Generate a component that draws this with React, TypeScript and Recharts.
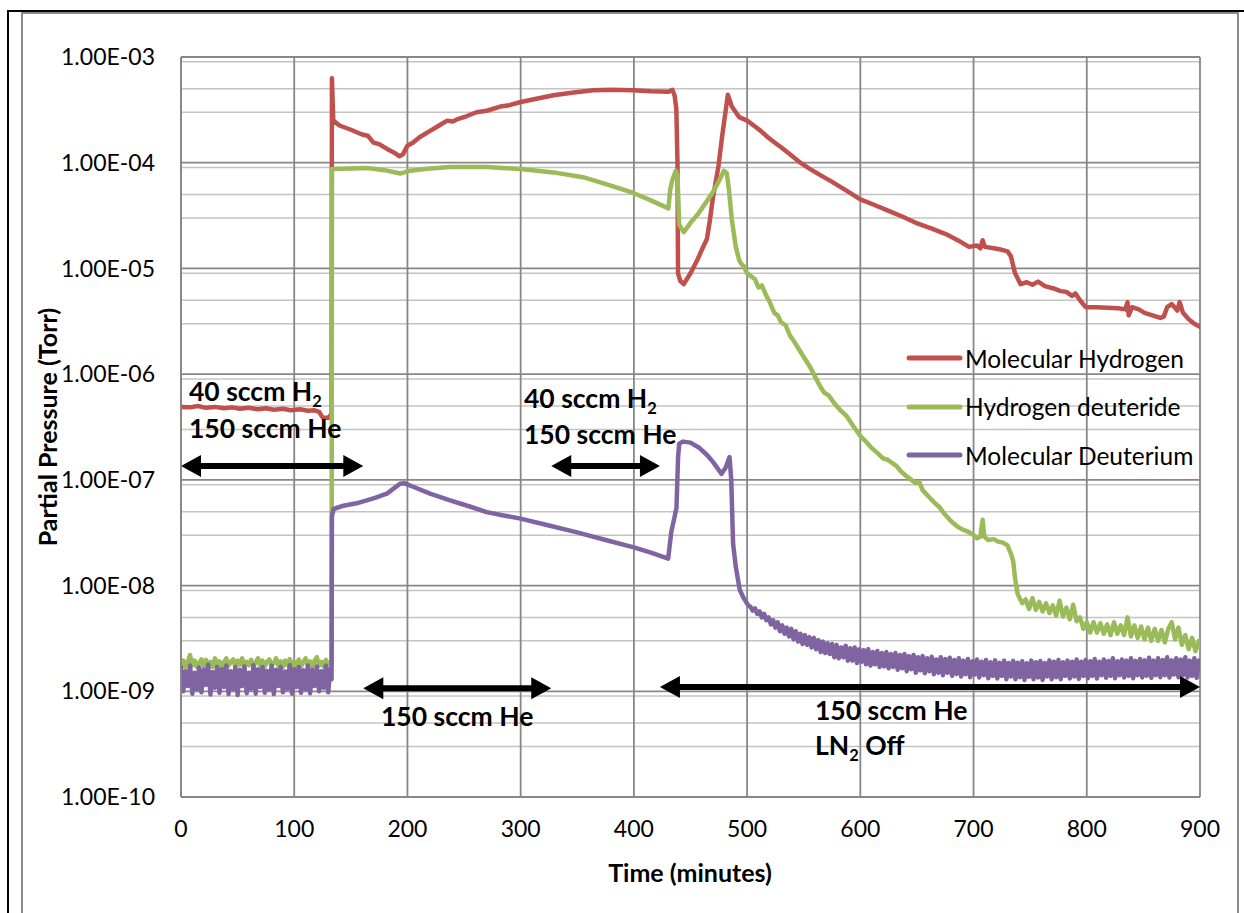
import React from "react";
import {
  LineChart,
  Line,
  XAxis,
  YAxis,
  CartesianGrid,
  ReferenceLine,
  Legend
} from "recharts";

// time (minutes), partial pressure (Torr)
const hydrogenData: [number, number][] = [
  [0, 4.9e-7], [8, 4.85e-7], [15, 5.0e-7], [22, 4.8e-7], [30, 4.9e-7], [38, 4.75e-7], [45, 4.85e-7],
  [52, 4.7e-7], [60, 4.8e-7], [68, 4.65e-7], [75, 4.75e-7], [82, 4.6e-7], [90, 4.7e-7], [97, 4.55e-7],
  [105, 4.65e-7], [112, 4.5e-7], [118, 4.55e-7], [122, 4.4e-7], [125, 3.9e-7], [130, 3.85e-7], [133, 4.2e-7],
  [133.3, 6.3e-4], [134.5, 2.5e-4], [140, 2.25e-4], [150, 2.05e-4], [160, 1.85e-4], [165, 1.8e-4], [170, 1.55e-4],
  [175, 1.5e-4], [182, 1.35e-4], [188, 1.25e-4], [193, 1.15e-4], [196, 1.2e-4], [200, 1.45e-4], [205, 1.55e-4],
  [211, 1.75e-4], [220, 2.0e-4], [228, 2.25e-4], [235, 2.5e-4], [240, 2.45e-4], [245, 2.6e-4], [252, 2.75e-4],
  [261, 3.0e-4], [270, 3.1e-4], [282, 3.4e-4], [290, 3.5e-4], [300, 3.75e-4], [315, 4.05e-4], [329, 4.35e-4],
  [345, 4.6e-4], [364, 4.85e-4], [380, 4.9e-4], [399, 4.85e-4], [415, 4.75e-4], [431, 4.7e-4], [434, 4.9e-4],
  [436, 4.3e-4], [437.5, 3.2e-4], [438.5, 1.0e-4], [439, 9.0e-6], [441, 7.6e-6], [444, 7.1e-6], [450, 9.0e-6],
  [456, 1.2e-5], [460, 1.5e-5], [464.5, 1.9e-5], [467, 2.8e-5], [469.6, 4.5e-5], [474.7, 9.3e-5], [478, 1.8e-4],
  [483, 4.4e-4], [486.5, 3.4e-4], [490, 3.0e-4], [493, 2.7e-4], [500, 2.5e-4], [507, 2.2e-4], [512, 2.0e-4],
  [518, 1.75e-4], [524, 1.56e-4], [530, 1.4e-4], [537, 1.22e-4], [547, 1.0e-4], [555, 8.8e-5], [565, 7.6e-5],
  [574, 6.7e-5], [587, 5.5e-5], [600, 4.5e-5], [612, 4.0e-5], [625, 3.5e-5], [637, 3.1e-5], [649, 2.7e-5],
  [662, 2.4e-5], [676, 2.1e-5], [686, 1.85e-5], [696, 1.6e-5], [703, 1.65e-5], [706, 1.55e-5], [708, 1.85e-5],
  [710, 1.6e-5], [718, 1.55e-5], [725, 1.5e-5], [730, 1.45e-5], [733, 1.3e-5], [736.5, 9.1e-6], [741.5, 7.1e-6],
  [747, 7.4e-6], [752, 7.0e-6], [757, 7.5e-6], [763, 6.8e-6], [770, 6.5e-6], [777, 6.1e-6], [782, 6.0e-6],
  [787, 5.5e-6], [790, 5.8e-6], [794, 5.0e-6], [799, 4.3e-6], [808, 4.3e-6], [818, 4.25e-6], [828, 4.2e-6],
  [834, 4.1e-6], [836, 4.8e-6], [837, 3.6e-6], [840, 4.3e-6], [846, 4.1e-6], [851, 3.8e-6], [858, 3.6e-6],
  [865, 3.4e-6], [868, 3.5e-6], [871, 4.3e-6], [875, 4.6e-6], [880, 4.0e-6], [882, 4.8e-6], [885, 3.8e-6],
  [890, 3.3e-6], [895, 3.0e-6], [900, 2.8e-6]
];

const hdBaseline: [number, number][] = [
  [0, 1.75e-9], [2, 1.95e-9], [4, 1.7e-9], [6, 1.9e-9], [8, 2.2e-9], [10, 1.75e-9], [12, 1.95e-9], [14, 1.7e-9],
  [16, 1.85e-9], [18, 2.0e-9], [20, 1.72e-9], [22, 1.98e-9], [24, 1.75e-9], [26, 1.9e-9], [28, 1.7e-9], [30, 2.05e-9],
  [32, 1.78e-9], [34, 1.92e-9], [36, 1.7e-9], [38, 1.88e-9], [40, 2.05e-9], [42, 1.75e-9], [44, 1.9e-9], [46, 2.0e-9],
  [48, 1.72e-9], [50, 1.95e-9], [52, 1.78e-9], [54, 2.05e-9], [56, 1.72e-9], [58, 1.9e-9], [60, 1.76e-9], [62, 1.98e-9],
  [64, 1.7e-9], [66, 1.88e-9], [68, 2.05e-9], [70, 1.75e-9], [72, 1.95e-9], [74, 1.72e-9], [76, 1.9e-9], [78, 2.0e-9],
  [80, 1.74e-9], [82, 1.85e-9], [84, 2.05e-9], [86, 1.75e-9], [88, 1.92e-9], [90, 1.7e-9], [92, 1.95e-9], [94, 1.78e-9],
  [96, 2.02e-9], [98, 1.72e-9], [100, 1.9e-9], [102, 1.75e-9], [104, 2.0e-9], [106, 1.72e-9], [108, 1.88e-9],
  [110, 2.05e-9], [112, 1.76e-9], [114, 1.92e-9], [116, 1.7e-9], [118, 1.95e-9], [120, 2.1e-9], [122, 1.75e-9],
  [124, 1.9e-9], [126, 1.72e-9], [128, 1.98e-9], [130, 1.8e-9], [132, 1.9e-9], [133, 1.8e-9]
];

const hdRun: [number, number][] = [
  [133.3, 8.7e-5], [150, 8.8e-5], [164, 8.9e-5], [180, 8.5e-5], [193.5, 7.9e-5], [202, 8.4e-5], [220, 8.8e-5],
  [238, 9.1e-5], [270, 9.1e-5], [300, 8.7e-5], [329, 8.1e-5], [355, 7.3e-5], [379, 6.1e-5], [399, 5.2e-5],
  [415, 4.4e-5], [430.5, 3.7e-5], [432, 5.5e-5], [434, 6.9e-5], [437, 8.4e-5], [438.5, 7.5e-5], [440, 2.6e-5],
  [444, 2.2e-5], [450, 2.7e-5], [456, 3.2e-5], [463, 4.1e-5], [470, 5.3e-5], [476, 7.0e-5], [479.5, 8.4e-5],
  [482, 8.0e-5], [484, 5.5e-5], [486.5, 2.9e-5], [490, 1.6e-5], [493, 1.2e-5], [495, 1.1e-5], [497, 1.05e-5],
  [500, 9.0e-6], [503, 8.5e-6], [507, 7.9e-6], [510, 6.6e-6], [513, 6.9e-6], [517, 5.5e-6], [520, 4.8e-6],
  [524, 3.8e-6], [527, 3.6e-6], [530, 3.1e-6], [534, 2.9e-6], [538, 2.3e-6], [542, 2.0e-6], [546, 1.7e-6],
  [551, 1.4e-6], [556, 1.15e-6], [561, 9.0e-7], [565, 7.5e-7], [568, 6.7e-7], [572, 6.3e-7], [577, 5.3e-7],
  [582, 4.6e-7], [588, 4.0e-7], [594, 3.2e-7], [600, 2.6e-7], [605, 2.3e-7], [610, 2.0e-7], [615, 1.8e-7],
  [620, 1.6e-7], [624, 1.55e-7], [628, 1.45e-7], [632, 1.35e-7], [636, 1.2e-7], [640, 1.1e-7], [645, 1.0e-7],
  [649, 9.3e-8], [652, 9.5e-8], [655, 8.0e-8], [660, 7.0e-8], [666, 6.0e-8], [670, 5.5e-8], [674, 4.8e-8],
  [678, 4.3e-8], [682, 3.9e-8], [686, 3.6e-8], [690, 3.4e-8], [696, 3.2e-8], [700, 3.0e-8], [703, 2.8e-8],
  [706, 2.9e-8], [708, 4.2e-8], [709.5, 2.9e-8], [713, 2.7e-8], [718, 2.75e-8], [722, 2.6e-8], [726, 2.55e-8],
  [730, 2.4e-8], [733, 2.0e-8], [735, 1.7e-8], [737, 1.1e-8], [739, 8.3e-9], [743, 6.8e-9]
];

const hdTail: [number, number][] = [
  [746, 7.4e-9], [749, 6.0e-9], [752, 7.6e-9], [755, 5.9e-9], [758, 7.0e-9], [761, 5.7e-9], [764, 6.8e-9],
  [767, 5.5e-9], [770, 6.5e-9], [773, 5.2e-9], [776, 7.2e-9], [779, 5.1e-9], [782, 6.2e-9], [785, 4.8e-9],
  [788, 6.6e-9], [791, 4.6e-9], [794, 5.0e-9], [797, 3.9e-9], [800, 4.5e-9], [803, 3.6e-9], [806, 4.5e-9],
  [809, 3.6e-9], [812, 4.4e-9], [815, 3.5e-9], [818, 4.3e-9], [821, 3.4e-9], [824, 4.5e-9], [827, 3.5e-9],
  [830, 4.2e-9], [833, 3.4e-9], [836, 5.0e-9], [839, 3.3e-9], [842, 4.2e-9], [845, 3.2e-9], [848, 4.1e-9],
  [851, 3.1e-9], [854, 4.0e-9], [857, 3.0e-9], [860, 3.9e-9], [863, 3.0e-9], [866, 3.8e-9], [869, 2.9e-9],
  [872, 3.9e-9], [875, 4.5e-9], [878, 3.1e-9], [881, 4.0e-9], [884, 2.75e-9], [887, 3.4e-9], [890, 2.5e-9],
  [893, 3.2e-9], [896, 2.4e-9], [899, 3.0e-9], [900, 2.6e-9]
];

const d2Baseline: [number, number][] = [
  [0, 1.7e-9], [2, 1.0e-9], [4, 1.55e-9], [6, 1.12e-9], [8, 1.75e-9], [10, 0.95e-9], [12, 1.5e-9], [14, 1.05e-9],
  [16, 1.68e-9], [18, 0.98e-9], [20, 1.6e-9], [22, 1.15e-9], [24, 1.78e-9], [26, 0.93e-9], [28, 1.52e-9],
  [30, 1.08e-9], [32, 1.7e-9], [34, 0.97e-9], [36, 1.62e-9], [38, 1.1e-9], [40, 1.75e-9], [42, 0.94e-9],
  [44, 1.55e-9], [46, 1.05e-9], [48, 1.7e-9], [50, 0.92e-9], [52, 1.6e-9], [54, 1.12e-9], [56, 1.72e-9],
  [58, 0.96e-9], [60, 1.5e-9], [62, 1.06e-9], [64, 1.76e-9], [66, 0.95e-9], [68, 1.62e-9], [70, 1.1e-9],
  [72, 1.7e-9], [74, 0.97e-9], [76, 1.56e-9], [78, 1.04e-9], [80, 1.74e-9], [82, 0.94e-9], [84, 1.6e-9],
  [86, 1.12e-9], [88, 1.7e-9], [90, 0.98e-9], [92, 1.54e-9], [94, 1.06e-9], [96, 1.76e-9], [98, 0.95e-9],
  [100, 1.62e-9], [102, 1.1e-9], [104, 1.7e-9], [106, 0.97e-9], [108, 1.58e-9], [110, 1.05e-9], [112, 1.75e-9],
  [114, 0.96e-9], [116, 1.6e-9], [118, 1.12e-9], [120, 1.72e-9], [122, 1.0e-9], [124, 1.55e-9], [126, 1.08e-9],
  [128, 1.74e-9], [130, 0.98e-9], [132, 1.65e-9], [133, 1.3e-9]
];

const d2Run: [number, number][] = [
  [133.3, 4.5e-8], [134.7, 5.3e-8], [143.5, 5.7e-8], [155, 6.0e-8], [164, 6.4e-8], [172, 6.8e-8], [181.8, 7.4e-8],
  [188, 8.3e-8], [193.5, 9.2e-8], [197, 9.3e-8], [205, 8.6e-8], [220, 7.4e-8], [237.6, 6.4e-8], [255, 5.6e-8],
  [270, 4.95e-8], [285, 4.6e-8], [300, 4.3e-8], [325, 3.7e-8], [349, 3.2e-8], [375, 2.7e-8], [400, 2.3e-8],
  [415, 2.05e-8], [430.3, 1.8e-8], [433, 3.2e-8], [437.6, 5.4e-8], [439, 1.6e-7], [440, 2.2e-7], [443.5, 2.3e-7],
  [450, 2.25e-7], [458, 2.0e-7], [465, 1.7e-7], [470, 1.47e-7], [477.4, 1.14e-7], [481, 1.3e-7], [484.5, 1.64e-7],
  [486, 1.0e-7], [487.6, 2.5e-8], [490, 1.5e-8], [493.5, 9.1e-9], [497, 7.6e-9], [501, 6.5e-9]
];

const d2Tail: [number, number][] = [
  [503, 6.3e-9], [505, 5.8e-9], [507, 6.1e-9], [509, 5.4e-9], [511, 5.7e-9], [513, 5.0e-9], [515, 5.4e-9],
  [517, 4.7e-9], [519, 5.0e-9], [521, 4.3e-9], [523, 4.7e-9], [525, 4.0e-9], [527, 4.5e-9], [529, 3.7e-9],
  [531, 4.2e-9], [533, 3.5e-9], [535, 4.0e-9], [537, 3.3e-9], [539, 3.9e-9], [541, 3.1e-9], [543, 3.7e-9],
  [545, 2.95e-9], [547, 3.5e-9], [549, 2.8e-9], [551, 3.4e-9], [553, 2.75e-9], [555, 3.25e-9], [557, 2.6e-9],
  [559, 3.2e-9], [561, 2.5e-9], [563, 3.05e-9], [565, 2.35e-9], [567, 2.95e-9], [569, 2.3e-9], [571, 2.85e-9],
  [573, 2.25e-9], [575, 2.8e-9], [577, 2.1e-9], [579, 2.75e-9], [581, 2.05e-9], [583, 2.6e-9], [585, 2.1e-9],
  [587, 2.7e-9], [589, 1.95e-9], [591, 2.55e-9], [593, 1.95e-9], [595, 2.6e-9], [597, 1.85e-9], [599, 2.5e-9],
  [601, 1.9e-9], [603, 2.45e-9], [605, 1.8e-9], [607, 2.5e-9], [609, 1.75e-9], [611, 2.35e-9], [613, 1.8e-9],
  [615, 2.4e-9], [617, 1.7e-9], [619, 2.3e-9], [621, 1.72e-9], [623, 2.35e-9], [625, 1.65e-9], [627, 2.25e-9],
  [629, 1.7e-9], [631, 2.3e-9], [633, 1.6e-9], [635, 2.2e-9], [637, 1.65e-9], [639, 2.25e-9], [641, 1.55e-9],
  [643, 2.15e-9], [645, 1.62e-9], [647, 2.2e-9], [649, 1.5e-9], [651, 2.1e-9], [653, 1.58e-9], [655, 2.15e-9],
  [657, 1.48e-9], [659, 2.05e-9], [661, 1.55e-9], [663, 2.12e-9], [665, 1.45e-9], [667, 2.0e-9], [669, 1.5e-9],
  [671, 2.1e-9], [673, 1.42e-9], [675, 2.02e-9], [677, 1.5e-9], [679, 2.08e-9], [681, 1.4e-9], [683, 1.98e-9],
  [685, 1.46e-9], [687, 2.05e-9], [689, 1.38e-9], [691, 1.95e-9], [693, 1.45e-9], [695, 2.02e-9], [697, 1.36e-9],
  [699, 1.92e-9], [701, 1.44e-9], [703, 2.0e-9], [705, 1.35e-9], [707, 1.9e-9], [709, 1.42e-9], [711, 1.98e-9],
  [713, 1.33e-9], [715, 1.88e-9], [717, 1.4e-9], [719, 1.96e-9], [721, 1.32e-9], [723, 1.86e-9], [725, 1.4e-9],
  [727, 1.95e-9], [729, 1.3e-9], [731, 1.85e-9], [733, 1.38e-9], [735, 1.94e-9], [737, 1.3e-9], [739, 1.86e-9],
  [741, 1.36e-9], [743, 1.92e-9], [745, 1.28e-9], [747, 1.84e-9], [749, 1.37e-9], [751, 1.95e-9], [753, 1.3e-9],
  [755, 1.88e-9], [757, 1.35e-9], [759, 1.93e-9], [761, 1.28e-9], [763, 1.85e-9], [765, 1.38e-9], [767, 1.96e-9],
  [769, 1.3e-9], [771, 1.9e-9], [773, 1.36e-9], [775, 1.98e-9], [777, 1.3e-9], [779, 1.88e-9], [781, 1.4e-9],
  [783, 1.95e-9], [785, 1.32e-9], [787, 1.9e-9], [789, 1.38e-9], [791, 2.0e-9], [793, 1.31e-9], [795, 1.9e-9],
  [797, 1.4e-9], [799, 1.98e-9], [801, 1.33e-9], [803, 1.92e-9], [805, 1.4e-9], [807, 2.02e-9], [809, 1.32e-9],
  [811, 1.9e-9], [813, 1.42e-9], [815, 2.0e-9], [817, 1.34e-9], [819, 1.93e-9], [821, 1.4e-9], [823, 2.05e-9],
  [825, 1.33e-9], [827, 1.92e-9], [829, 1.42e-9], [831, 2.0e-9], [833, 1.35e-9], [835, 1.95e-9], [837, 1.4e-9],
  [839, 2.05e-9], [841, 1.33e-9], [843, 1.94e-9], [845, 1.42e-9], [847, 2.02e-9], [849, 1.35e-9], [851, 1.96e-9],
  [853, 1.4e-9], [855, 2.08e-9], [857, 1.34e-9], [859, 1.95e-9], [861, 1.42e-9], [863, 2.05e-9], [865, 1.36e-9],
  [867, 1.98e-9], [869, 1.42e-9], [871, 2.1e-9], [873, 1.35e-9], [875, 1.96e-9], [877, 1.44e-9], [879, 2.05e-9],
  [881, 1.36e-9], [883, 2.0e-9], [885, 1.42e-9], [887, 2.1e-9], [889, 1.35e-9], [891, 1.95e-9], [893, 1.4e-9],
  [895, 2.05e-9], [897, 1.34e-9], [899, 1.95e-9], [900, 1.6e-9]
];

const timeTicks = [0, 100, 200, 300, 400, 500, 600, 700, 800, 900];
const pressureTicks = [1e-10, 1e-9, 1e-8, 1e-7, 1e-6, 1e-5, 1e-4, 1e-3];
const seriesOrder = ["Molecular Hydrogen", "Hydrogen deuteride", "Molecular Deuterium"];

// arrows: [start min, end min, pressure]
const arrows: [number, number, number][] = [
  [0, 161, 1.35e-7],
  [327, 423, 1.35e-7],
  [161, 327, 1.07e-9],
  [423, 900, 1.1e-9]
];

const RED = "#C0504D";
const GREEN = "#9BBB59";
const PURPLE = "#8064A2";
const FONT = "Lato, 'Open Sans', sans-serif";

const toRows = (pts: [number, number][]) => pts.map(([t, p]) => ({ t, p }));

const minorValues: number[] = [];
pressureTicks.slice(0, -1).forEach(base => {
  for (let k = 2; k <= 9; k++) minorValues.push(base * k);
});

function fmtExp(v: number) {
  const e = Math.round(Math.log10(v));
  const s = e < 0 ? "-" : "+";
  return `1.00E${s}${String(Math.abs(e)).padStart(2, "0")}`;
}

function ArrowShape(props: any) {
  const { x1, y1, x2, y2 } = props;
  if (x1 == null) return null;
  const hl = 20;
  const hh = 11;
  const left = Math.min(x1, x2);
  const right = Math.max(x1, x2);
  const y = y1;
  return (
    <g>
      <line x1={left + hl - 2} y1={y} x2={right - hl + 2} y2={y2} stroke="#000" strokeWidth={6} />
      <polygon points={`${left},${y} ${left + hl},${y - hh} ${left + hl},${y + hh}`} fill="#000" />
      <polygon points={`${right},${y} ${right - hl},${y - hh} ${right - hl},${y + hh}`} fill="#000" />
    </g>
  );
}

function LegendBox(props: any) {
  const items = (props.payload || [])
    .filter((p: any) => p.value)
    .sort((a: any, b: any) => seriesOrder.indexOf(a.value) - seriesOrder.indexOf(b.value));
  return (
    <div style={{ fontFamily: FONT, fontSize: 24.5, color: "#000" }}>
      {items.map((it: any) => (
        <div key={it.value} style={{ display: "flex", alignItems: "center", height: 48.5 }}>
          <svg width={60} height={10}>
            <line x1={6} y1={5} x2={57} y2={5} stroke={it.color} strokeWidth={5} strokeLinecap="round" />
          </svg>
          <span style={{ marginLeft: 2, whiteSpace: "nowrap" }}>{it.value}</span>
        </div>
      ))}
    </div>
  );
}

function Note({ x, y, children }: { x: number; y: number; children: React.ReactNode }) {
  return (
    <div
      style={{
        position: "absolute",
        left: x,
        top: y,
        fontFamily: FONT,
        fontWeight: 700,
        fontSize: 26.5,
        lineHeight: "32px",
        whiteSpace: "nowrap",
        color: "#000"
      }}
    >
      {children}
    </div>
  );
}

const Sub = ({ children }: { children: React.ReactNode }) => (
  <span style={{ fontSize: "0.62em", position: "relative", top: "0.35em" }}>{children}</span>
);

export default function App() {
  return (
    <div
      style={{
        position: "absolute",
        left: 0,
        top: 0,
        width: 1244,
        height: 913,
        background: "#fff",
        overflow: "hidden",
        fontFamily: FONT
      }}
    >
      <div style={{ position: "absolute", left: 21, top: 12, width: 1214, height: 920, border: "2px solid #8a8a8a" }} />
      <div style={{ position: "absolute", left: 7, top: 10, width: 2, height: 903, background: "#000" }} />
      <div style={{ position: "absolute", left: 7, top: 10, width: 1237, height: 2, background: "#000" }} />

      <div style={{ position: "absolute", left: 0, top: 0 }}>
        <LineChart width={1244} height={913} margin={{ top: 57, right: 44, bottom: 86, left: 0 }}>
          <CartesianGrid
            horizontalValues={minorValues}
            vertical={false}
            stroke="#c4c4c4"
            strokeWidth={1.5}
          />
          <CartesianGrid
            horizontalValues={pressureTicks}
            verticalValues={timeTicks}
            stroke="#878787"
            strokeWidth={1.8}
          />
          <XAxis
            type="number"
            dataKey="t"
            domain={[0, 900]}
            ticks={timeTicks}
            allowDataOverflow
            height={30}
            tickLine={false}
            tickSize={0}
            tickMargin={24}
            axisLine={{ stroke: "#878787", strokeWidth: 1.8 }}
            tick={{ fontSize: 23, fill: "#000", fontFamily: FONT }}
          />
          <YAxis
            type="number"
            dataKey="p"
            scale="log"
            domain={[1e-10, 1e-3]}
            ticks={pressureTicks}
            allowDataOverflow
            width={181}
            tickLine={false}
            tickSize={0}
            tickMargin={26}
            tickFormatter={fmtExp}
            axisLine={{ stroke: "#878787", strokeWidth: 1.8 }}
            tick={{ fontSize: 23, fill: "#000", fontFamily: FONT }}
          />
          <Line
            data={toRows(hydrogenData)}
            dataKey="p"
            name="Molecular Hydrogen"
            stroke={RED}
            strokeWidth={4.5}
            dot={false}
            type="linear"
            strokeLinejoin="round"
            strokeLinecap="round"
            isAnimationActive={false}
          />
          <Line
            data={toRows([...hdBaseline, ...hdRun, ...hdTail])}
            dataKey="p"
            name="Hydrogen deuteride"
            stroke={GREEN}
            strokeWidth={4.5}
            dot={false}
            type="linear"
            strokeLinejoin="round"
            strokeLinecap="round"
            isAnimationActive={false}
          />
          <Line
            data={toRows([...d2Baseline, ...d2Run, ...d2Tail])}
            dataKey="p"
            name="Molecular Deuterium"
            stroke={PURPLE}
            strokeWidth={4.5}
            dot={false}
            type="linear"
            strokeLinejoin="round"
            strokeLinecap="round"
            isAnimationActive={false}
          />
          {arrows.map(([a, b, p], i) => (
            <ReferenceLine
              key={i}
              segment={[{ x: a, y: p }, { x: b, y: p }]}
              shape={ArrowShape}
              ifOverflow="visible"
            />
          ))}
          <Legend
            layout="vertical"
            align="center"
            verticalAlign="middle"
            content={LegendBox}
            wrapperStyle={{ left: 903, top: 334, width: 330 }}
          />
        </LineChart>
      </div>

      <Note x={189} y={375}>40 sccm H<Sub>2</Sub></Note>
      <Note x={189} y={412}>150 sccm He</Note>
      <Note x={524} y={382}>40 sccm H<Sub>2</Sub></Note>
      <Note x={524} y={418}>150 sccm He</Note>
      <Note x={381} y={700}>150 sccm He</Note>
      <Note x={815} y={694}>150 sccm He</Note>
      <Note x={815} y={729}>LN<Sub>2</Sub> Off</Note>

      <div
        style={{
          position: "absolute",
          left: 47 - 160,
          top: 427 - 15,
          width: 320,
          height: 30,
          lineHeight: "30px",
          textAlign: "center",
          transform: "rotate(-90deg)",
          fontWeight: 700,
          fontSize: 25,
          whiteSpace: "nowrap"
        }}
      >
        Partial Pressure (Torr)
      </div>
      <div
        style={{
          position: "absolute",
          left: 540,
          top: 857,
          width: 300,
          lineHeight: "30px",
          textAlign: "center",
          fontWeight: 700,
          fontSize: 25,
          whiteSpace: "nowrap"
        }}
      >
        Time (minutes)
      </div>
    </div>
  );
}
